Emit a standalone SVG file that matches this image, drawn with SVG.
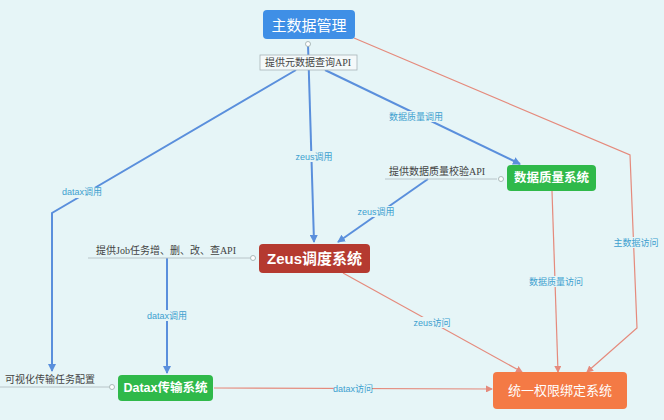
<svg xmlns="http://www.w3.org/2000/svg" width="664" height="420" viewBox="0 0 664 420">
<style>
.bl{fill:none;stroke:#5a8fdc;stroke-width:2}
.rl{fill:none;stroke:#e58a7c;stroke-width:1.2}
.ul{fill:none;stroke:#b8c4c8;stroke-width:1}
.lbl{font-family:"Liberation Sans","Noto Sans CJK SC",sans-serif;font-size:9px;fill:#3d9fcf;text-anchor:middle;dominant-baseline:central}
.api{font-family:"Liberation Serif","Noto Sans CJK SC",serif;font-size:10px;fill:#444;text-anchor:middle;dominant-baseline:central}
.nt{font-family:"Liberation Sans","Noto Sans CJK SC",sans-serif;fill:#fff;text-anchor:middle;dominant-baseline:central;font-weight:bold}
.nn{font-weight:normal}
.dot{fill:#fff;stroke:#9aa;stroke-width:0.8}
</style>
<defs>
<marker id="ab" markerWidth="8" markerHeight="8" refX="7" refY="4" orient="auto" markerUnits="userSpaceOnUse"><path d="M0,0 L8,4 L0,8 z" fill="#5a8fdc"/></marker>
<marker id="ar" markerWidth="7" markerHeight="7" refX="6" refY="3.5" orient="auto" markerUnits="userSpaceOnUse"><path d="M0,0 L7,3.5 L0,7 z" fill="#e58a7c"/></marker>
</defs>
<rect width="664" height="420" fill="#e6f5f7"/>
<g id="connectors">
<path class="bl" d="M296,70 L52,213 L52,371" marker-end="url(#ab)"/>
<path class="bl" d="M308,44 L314,242" marker-end="url(#ab)"/>
<path class="bl" d="M325,70 L520,164" marker-end="url(#ab)"/>
<path class="bl" d="M428,179 L338,242" marker-end="url(#ab)"/>
<path class="bl" d="M167,258 L167,373" marker-end="url(#ab)"/>
<path class="rl" d="M214,388 L492,389" marker-end="url(#ar)"/>
<path class="rl" d="M343,273 L522,372" marker-end="url(#ar)"/>
<path class="rl" d="M552,191 L558,372" marker-end="url(#ar)"/>
<path class="rl" d="M354,38 L630,155 L637,328 L587,372" marker-end="url(#ar)"/>
<rect x="66" y="187" width="32" height="11" fill="#e6f5f7"/>
<text class="lbl" x="82" y="192">datax调用</text>
<rect x="298" y="151" width="32" height="11" fill="#e6f5f7"/>
<text class="lbl" x="314" y="157">zeus调用</text>
<rect x="388" y="111" width="56" height="11" fill="#e6f5f7"/>
<text class="lbl" x="416" y="117">数据质量调用</text>
<rect x="360" y="206" width="32" height="11" fill="#e6f5f7"/>
<text class="lbl" x="376" y="212">zeus调用</text>
<rect x="150" y="310" width="34" height="11" fill="#e6f5f7"/>
<text class="lbl" x="167" y="316">datax调用</text>
<rect x="334" y="383" width="38" height="11" fill="#e6f5f7"/>
<text class="lbl" x="353" y="389">datax访问</text>
<rect x="415" y="317" width="34" height="11" fill="#e6f5f7"/>
<text class="lbl" x="432" y="323">zeus访问</text>
<rect x="528" y="276" width="56" height="11" fill="#e6f5f7"/>
<text class="lbl" x="556" y="282">数据质量访问</text>
<rect x="613" y="237" width="46" height="11" fill="#e6f5f7"/>
<text class="lbl" x="636" y="243">主数据访问</text>
</g>
<g id="api-meta">
<rect x="260" y="55" width="97" height="15" fill="#f4f9fa" stroke="#a8b4b8" stroke-width="0.8"/>
<text class="api" x="308" y="62.5">提供元数据查询API</text>
<circle class="dot" cx="308" cy="44" r="2.5"/>
</g>
<g id="api-quality">
<line class="ul" x1="385" y1="179" x2="497" y2="179"/>
<text class="api" x="437" y="171">提供数据质量校验API</text>
<circle class="dot" cx="501" cy="179" r="2.5"/>
</g>
<g id="api-job">
<line class="ul" x1="88" y1="258" x2="250" y2="258"/>
<text class="api" x="166" y="250">提供Job任务增、删、改、查API</text>
<circle class="dot" cx="253" cy="258" r="2.5"/>
</g>
<g id="api-datax">
<line class="ul" x1="0" y1="387" x2="109" y2="387"/>
<text class="api" x="50" y="379">可视化传输任务配置</text>
<circle class="dot" cx="112" cy="387" r="2.5"/>
</g>
<g id="node-master">
<rect x="263" y="10" width="92" height="29" rx="4" fill="#3f8fe6"/>
<text class="nt nn" x="309" y="25" font-size="15">主数据管理</text>
</g>
<g id="node-quality">
<rect x="507" y="165" width="89" height="26" rx="4" fill="#2fb94a"/>
<text class="nt" x="551.5" y="178" font-size="12.5">数据质量系统</text>
</g>
<g id="node-zeus">
<rect x="259" y="244" width="111" height="29" rx="4" fill="#b53a30"/>
<text class="nt" x="314.5" y="258.5" font-size="15">Zeus调度系统</text>
</g>
<g id="node-datax">
<rect x="118" y="375" width="95" height="26" rx="4" fill="#2fb94a"/>
<text class="nt" x="165.5" y="388" font-size="12.5">Datax传输系统</text>
</g>
<g id="node-auth">
<rect x="493" y="372" width="134" height="37" rx="4" fill="#f47a45"/>
<text class="nt nn" x="560" y="390.5" font-size="13">统一权限绑定系统</text>
</g>
</svg>
